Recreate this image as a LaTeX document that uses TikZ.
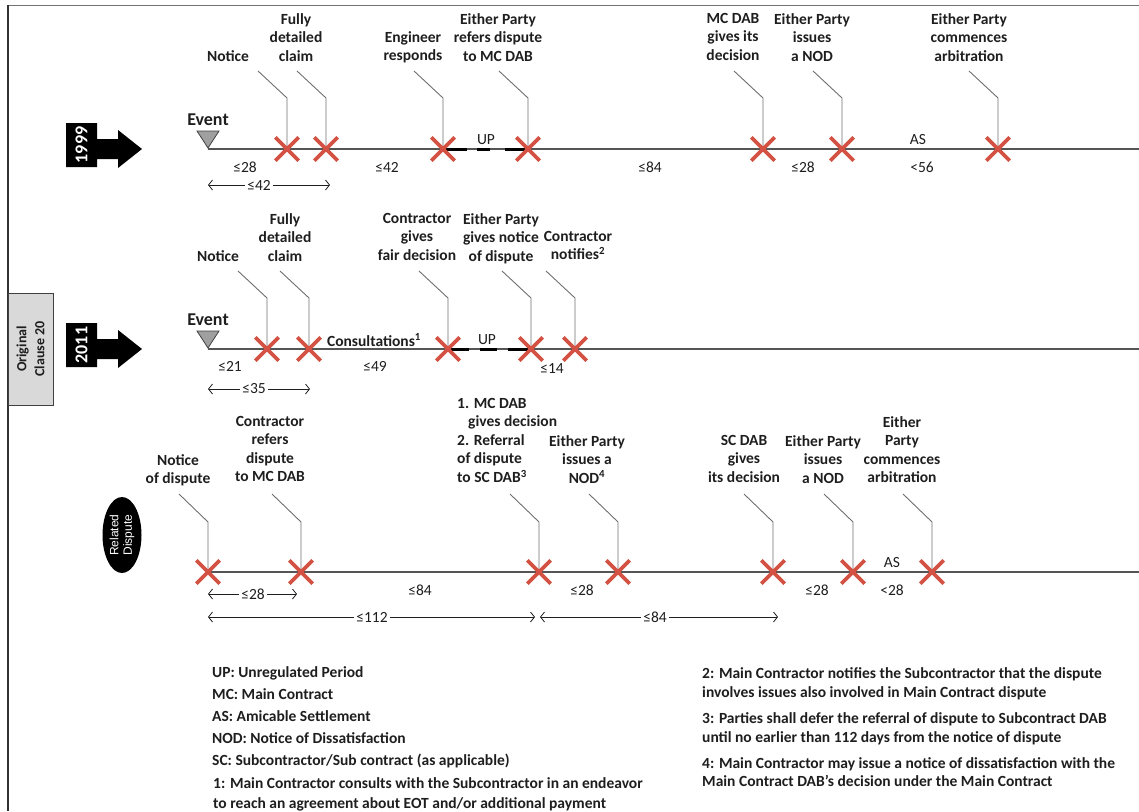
\documentclass[tikz,border=0pt]{standalone}
\usepackage{fontspec}
\setmainfont{Carlito}
\newfontfamily\arialfont{Liberation Sans}
\usetikzlibrary{shapes.misc,shapes.geometric,arrows.meta}

\definecolor{xred}{RGB}{212,82,68}
\definecolor{leadgray}{RGB}{110,110,110}
\definecolor{linegray}{RGB}{85,85,85}
\definecolor{boxgray}{RGB}{217,217,217}
\definecolor{trigray}{RGB}{160,160,160}
\definecolor{txt}{RGB}{30,30,30}

\pgfdeclarelayer{bg}
\pgfsetlayers{bg,main}

\tikzset{
  lbl/.style={font=\bfseries\fontsize{15.5}{18.5}\selectfont, text=txt, align=center, anchor=north, inner sep=0pt},
  num/.style={font=\fontsize{15.5}{18.5}\selectfont, text=txt, inner sep=0pt},
  evlbl/.style={font=\bfseries\fontsize{18}{20}\selectfont, text=txt, inner sep=0pt},
  xmark/.style={cross out, draw=xred, line width=3.8pt, minimum size=19.5pt, inner sep=0pt},
  leader/.style={draw=leadgray, line width=0.9pt},
  tline/.style={draw=linegray, line width=1.4pt},
  updash/.style={draw=black, line width=3pt},
  span/.style={draw=txt, line width=0.8pt, {Straight Barb[length=4pt,width=10pt]}-{Straight Barb[length=4pt,width=10pt]}},
  spanlbl/.style={num, fill=white, inner xsep=2pt, inner ysep=1pt},
  evmark/.style={fill=trigray, draw=black!75, line width=0.8pt},
  legend/.style={font=\bfseries\fontsize{15.5}{19}\selectfont, text=txt, align=left, anchor=north west, inner sep=0pt},
  yearbox/.style={fill=black},
  yeartxt/.style={font=\bfseries\fontsize{18}{20}\selectfont, text=white, rotate=90, inner sep=0pt},
}

\begin{document}
\begin{tikzpicture}[x=1pt,y=-1pt]
\useasboundingbox (0,0) rectangle (1139,811);

% frame edges
\draw[draw=black!55, line width=1.5pt] (8,5.5) -- (1139,5.5);
\draw[draw=black!80, line width=1.5pt] (8,5) -- (8,811);

% side tag
\node[draw=black!75, fill=boxgray, line width=0.9pt, rotate=90, minimum width=112pt, minimum height=45pt,
      inner sep=0pt, align=center, font=\bfseries\fontsize{14}{18}\selectfont, text=txt] (orig) at (30.5,349) {Original\\Clause 20};

% year arrows
\fill[yearbox] (66,123) -- (97,123) -- (97,139) -- (118,139) -- (118,130) -- (142,149) -- (118,168) -- (118,159) -- (97,159) -- (97,167) -- (66,167) -- cycle;
\node[yeartxt] (y1999) at (81.5,145) {1999};
\fill[yearbox] (66,323) -- (97,323) -- (97,339) -- (118,339) -- (118,330) -- (142,349) -- (118,368) -- (118,359) -- (97,359) -- (97,367) -- (66,367) -- cycle;
\node[yeartxt] (y2011) at (81.5,345) {2011};

% related dispute tag
\node[ellipse, fill=black, rotate=90, minimum width=76pt, minimum height=39pt, inner sep=0pt, align=center,
      font=\arialfont\fontsize{12}{13.5}\selectfont, text=white] (rel) at (122,535) {Related\\Dispute};

% ---------------- 1999 timeline ----------------
\coordinate (ev1) at (208,149);
\coordinate (end1) at (1139,149);
\fill[evmark] (197,131) -- (219,131) -- (208,148) -- cycle;
\node[evlbl] (evl1) at (208,120) {Event};
\begin{pgfonlayer}{bg}
\draw[tline] (ev1) -- (end1);
\end{pgfonlayer}
\foreach \n/\x in {a/287,b/326,c/443,d/528,e/763,f/842,g/998}
  \node[xmark] (x1\n) at (\x,149) {};
\begin{pgfonlayer}{bg}
\foreach \n in {a,b,c,d,e,f,g}
  \draw[leader] (x1\n.center) -- ++(0,-51) -- ++(-29,-27);
\draw[updash] (x1c.center) -- (467,149);
\draw[updash] (477,149) -- (490,149);
\draw[updash] (505,149) -- (x1d.center);
\end{pgfonlayer}
\node[lbl] (l1a) at (228,50) {Notice};
\node[lbl] (l1b) at (296,13) {Fully\\detailed\\claim};
\node[lbl] (l1c) at (413,31) {Engineer\\responds};
\node[lbl] (l1d) at (498,13) {Either Party\\refers dispute\\to MC DAB};
\node[lbl] (l1e) at (733,13) {MC DAB\\gives its\\decision};
\node[lbl] (l1f) at (812,13) {Either Party\\issues\\a NOD};
\node[lbl] (l1g) at (969,13) {Either Party\\commences\\arbitration};
\node[num] (up1) at (486,140) {UP};
\node[num] (as1) at (918,140) {AS};
\node[num] (d1a) at (245,167) {≤28};
\node[num] (d1b) at (387,167) {≤42};
\node[num] (d1c) at (650,167) {≤84};
\node[num] (d1d) at (803,167) {≤28};
\node[num] (d1e) at (922,167) {<56};
\coordinate (s1a) at (208,185);
\coordinate (s1b) at (330,185);
\draw[span] (s1a) -- (s1b);
\node[spanlbl] (s1l) at (259,185) {≤42};

% ---------------- 2011 timeline ----------------
\coordinate (ev2) at (208,349);
\coordinate (end2) at (1139,349);
\fill[evmark] (197,331) -- (219,331) -- (208,348) -- cycle;
\node[evlbl] (evl2) at (208,320) {Event};
\begin{pgfonlayer}{bg}
\draw[tline] (ev2) -- (end2);
\end{pgfonlayer}
\foreach \n/\x in {a/267,b/309,c/448,d/531,e/575}
  \node[xmark] (x2\n) at (\x,349) {};
\begin{pgfonlayer}{bg}
\foreach \n in {a,b,c,d,e}
  \draw[leader] (x2\n.center) -- ++(0,-51) -- ++(-29,-27);
\draw[updash] (x2c.center) -- (469,349);
\draw[updash] (480,349) -- (497,349);
\draw[updash] (508,349) -- (x2d.center);
\end{pgfonlayer}
\node[lbl] (l2a) at (218,250) {Notice};
\node[lbl] (l2b) at (285,213) {Fully\\detailed\\claim};
\node[lbl] (l2c) at (417,213) {Contractor\\gives\\fair decision};
\node[lbl] (l2d) at (501,213) {Either Party\\gives notice\\of dispute};
\node[lbl] (l2e) at (578,231) {Contractor\\notifies\textsuperscript{2}};
\node[lbl, anchor=center] (cons) at (374,340) {Consultations\textsuperscript{1}};
\node[num] (up2) at (487,340) {UP};
\node[num] (d2a) at (230,366) {≤21};
\node[num] (d2b) at (375,366) {≤49};
\node[num] (d2c) at (552,369) {≤14};
\coordinate (s2a) at (208,389);
\coordinate (s2b) at (310,389);
\draw[span] (s2a) -- (s2b);
\node[spanlbl] (s2l) at (254,389) {≤35};

% ---------------- related dispute timeline ----------------
\coordinate (end3) at (1139,572);
\foreach \n/\x in {a/208,b/301,c/539,d/618,e/773,f/853,g/932}
  \node[xmark] (x3\n) at (\x,572) {};
\begin{pgfonlayer}{bg}
\draw[tline] (x3a.center) -- (end3);
\foreach \n in {a,b,c,d,e,f,g}
  \draw[leader] (x3\n.center) -- ++(0,-50) -- ++(-29,-28);
\end{pgfonlayer}
\node[lbl] (l3a) at (178,454) {Notice\\of dispute};
\node[lbl] (l3b) at (270,416) {Contractor\\refers\\dispute\\to MC DAB};
\node[lbl, anchor=north west, align=left] (l3c) at (457,398) {1. MC DAB\\\hspace*{11pt}gives decision\\2. Referral\\of dispute\\to SC DAB\textsuperscript{3}};
\node[lbl] (l3d) at (587,435) {Either Party\\issues a\\NOD\textsuperscript{4}};
\node[lbl] (l3e) at (744,435) {SC DAB\\gives\\its decision};
\node[lbl] (l3f) at (823,435) {Either Party\\issues\\a NOD};
\node[lbl] (l3g) at (902,416) {Either\\Party\\commences\\arbitration};
\node[num] (as3) at (892,563) {AS};
\node[num] (d3a) at (420,590) {≤84};
\node[num] (d3b) at (582,590) {≤28};
\node[num] (d3c) at (817,590) {≤28};
\node[num] (d3d) at (892,590) {<28};
\coordinate (s3a) at (208,594);
\coordinate (s3b) at (297,594);
\draw[span] (s3a) -- (s3b);
\node[spanlbl] (s3l) at (253,594) {≤28};
\coordinate (s4a) at (208,617);
\coordinate (s4b) at (535,617);
\draw[span] (s4a) -- (s4b);
\node[spanlbl] (s4l) at (372,617) {≤112};
\coordinate (s5a) at (540,617);
\coordinate (s5b) at (778,617);
\draw[span] (s5a) -- (s5b);
\node[spanlbl] (s5l) at (655,617) {≤84};

% ---------------- legend ----------------
\node[legend] (g1) at (212,666) {UP: Unregulated Period};
\node[legend] (g2) at (212,688) {MC: Main Contract};
\node[legend] (g3) at (212,710) {AS: Amicable Settlement};
\node[legend] (g4) at (212,732) {NOD: Notice of Dissatisfaction};
\node[legend] (g5) at (212,754) {SC: Subcontractor/Sub contract (as applicable)};
\node[legend, font=\bfseries\fontsize{15.5}{20}\selectfont] (g6) at (213,777) {1: Main Contractor consults with the Subcontractor in an endeavor\\to reach an agreement about EOT and/or additional payment};
\node[legend] (g7) at (702,667) {2: Main Contractor notifies the Subcontractor that the dispute\\involves issues also involved in Main Contract dispute};
\node[legend] (g8) at (702,712) {3: Parties shall defer the referral of dispute to Subcontract DAB\\until no earlier than 112 days from the notice of dispute};
\node[legend, font=\bfseries\fontsize{15.5}{18}\selectfont] (g9) at (702,757) {4: Main Contractor may issue a notice of dissatisfaction with the\\Main Contract DAB’s decision under the Main Contract};

\end{tikzpicture}
\end{document}
